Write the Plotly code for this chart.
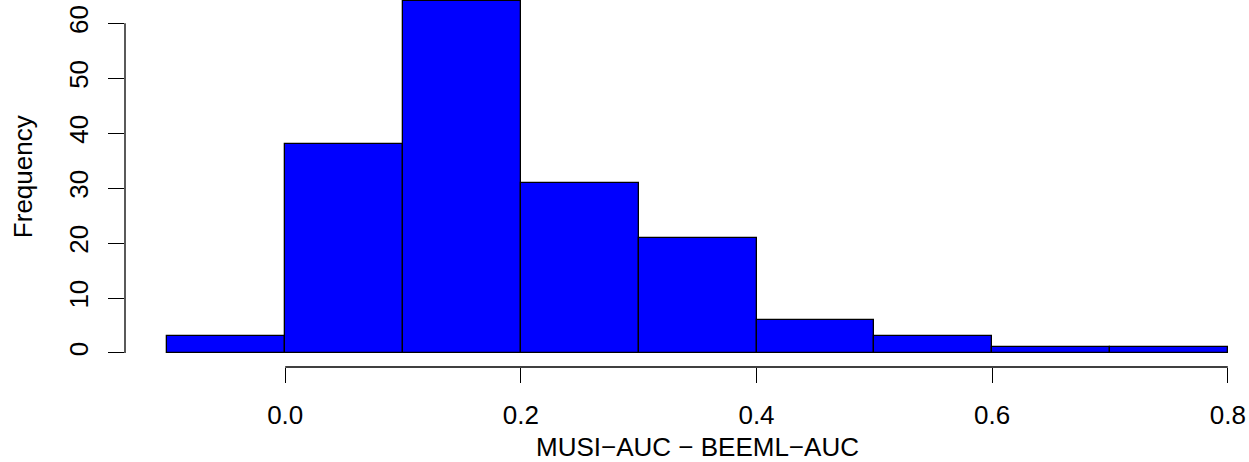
import plotly.graph_objects as go

bin_edges = [-0.1, 0.0, 0.1, 0.2, 0.3, 0.4, 0.5, 0.6, 0.7, 0.8]
counts = [3, 38, 64, 31, 21, 6, 3, 1, 1]
x_ticks = [0.0, 0.2, 0.4, 0.6, 0.8]
x_tick_labels = ["0.0", "0.2", "0.4", "0.6", "0.8"]
y_ticks = [0, 10, 20, 30, 40, 50, 60]
y_tick_labels = ["0", "10", "20", "30", "40", "50", "60"]
x_title = "MUSI\u2212AUC \u2212 BEEML\u2212AUC"
y_title = "Frequency"

centers = [(a + b) / 2 for a, b in zip(bin_edges[:-1], bin_edges[1:])]
widths = [b - a for a, b in zip(bin_edges[:-1], bin_edges[1:])]

FONT = "Liberation Sans, Arial, Helvetica, sans-serif"
FS = 26

fig = go.Figure()
fig.add_trace(go.Bar(
    x=centers, y=counts, width=widths,
    marker=dict(color="#0000FF", line=dict(color="black", width=1.3)),
    hoverinfo="x+y",
))

fig.update_layout(
    width=1249, height=462,
    margin=dict(l=125, r=0, t=0, b=95),
    paper_bgcolor="white", plot_bgcolor="white",
    showlegend=False,
    font=dict(family=FONT, size=FS, color="black"),
    bargap=0,
    xaxis=dict(
        range=[-0.136, 0.818], tickmode="array", tickvals=x_ticks, ticktext=x_tick_labels,
        ticks="outside", ticklen=15, tickwidth=1.3, tickcolor="black",
        showline=False, showgrid=False, zeroline=False,
        tickfont=dict(family=FONT, size=FS, color="black"),
        ticklabelstandoff=10,
    ),
    yaxis=dict(
        range=[-2.56, 64.25], tickmode="array", tickvals=y_ticks, ticktext=y_tick_labels,
        ticks="outside", ticklen=16, tickwidth=1.3, tickcolor="black",
        showline=False, showgrid=False, zeroline=False, tickangle=-90,
        tickfont=dict(family=FONT, size=FS, color="black"),
        ticklabelstandoff=10,
    ),
)

# R-style axis lines spanning first to last tick
fig.add_shape(type="line", xref="x", yref="paper", x0=x_ticks[0], x1=x_ticks[-1], y0=0, y1=0,
              line=dict(color="black", width=1.3))
fig.add_shape(type="line", xref="paper", yref="y", x0=0, x1=0, y0=y_ticks[0], y1=y_ticks[-1],
              line=dict(color="black", width=1.3))

fig.add_annotation(text=x_title, xref="x", yref="paper", x=0.35, y=0, yshift=-80,
                   xanchor="center", yanchor="middle", showarrow=False,
                   font=dict(family=FONT, size=FS, color="black"))
fig.add_annotation(text=y_title, xref="paper", yref="y", x=0, xshift=-102, y=32,
                   xanchor="center", yanchor="middle", textangle=-90, showarrow=False,
                   font=dict(family=FONT, size=FS, color="black"))

fig.write_html("out.html", config={"displayModeBar": False},
               post_script="document.body.style.margin='0';document.body.style.padding='0';")
